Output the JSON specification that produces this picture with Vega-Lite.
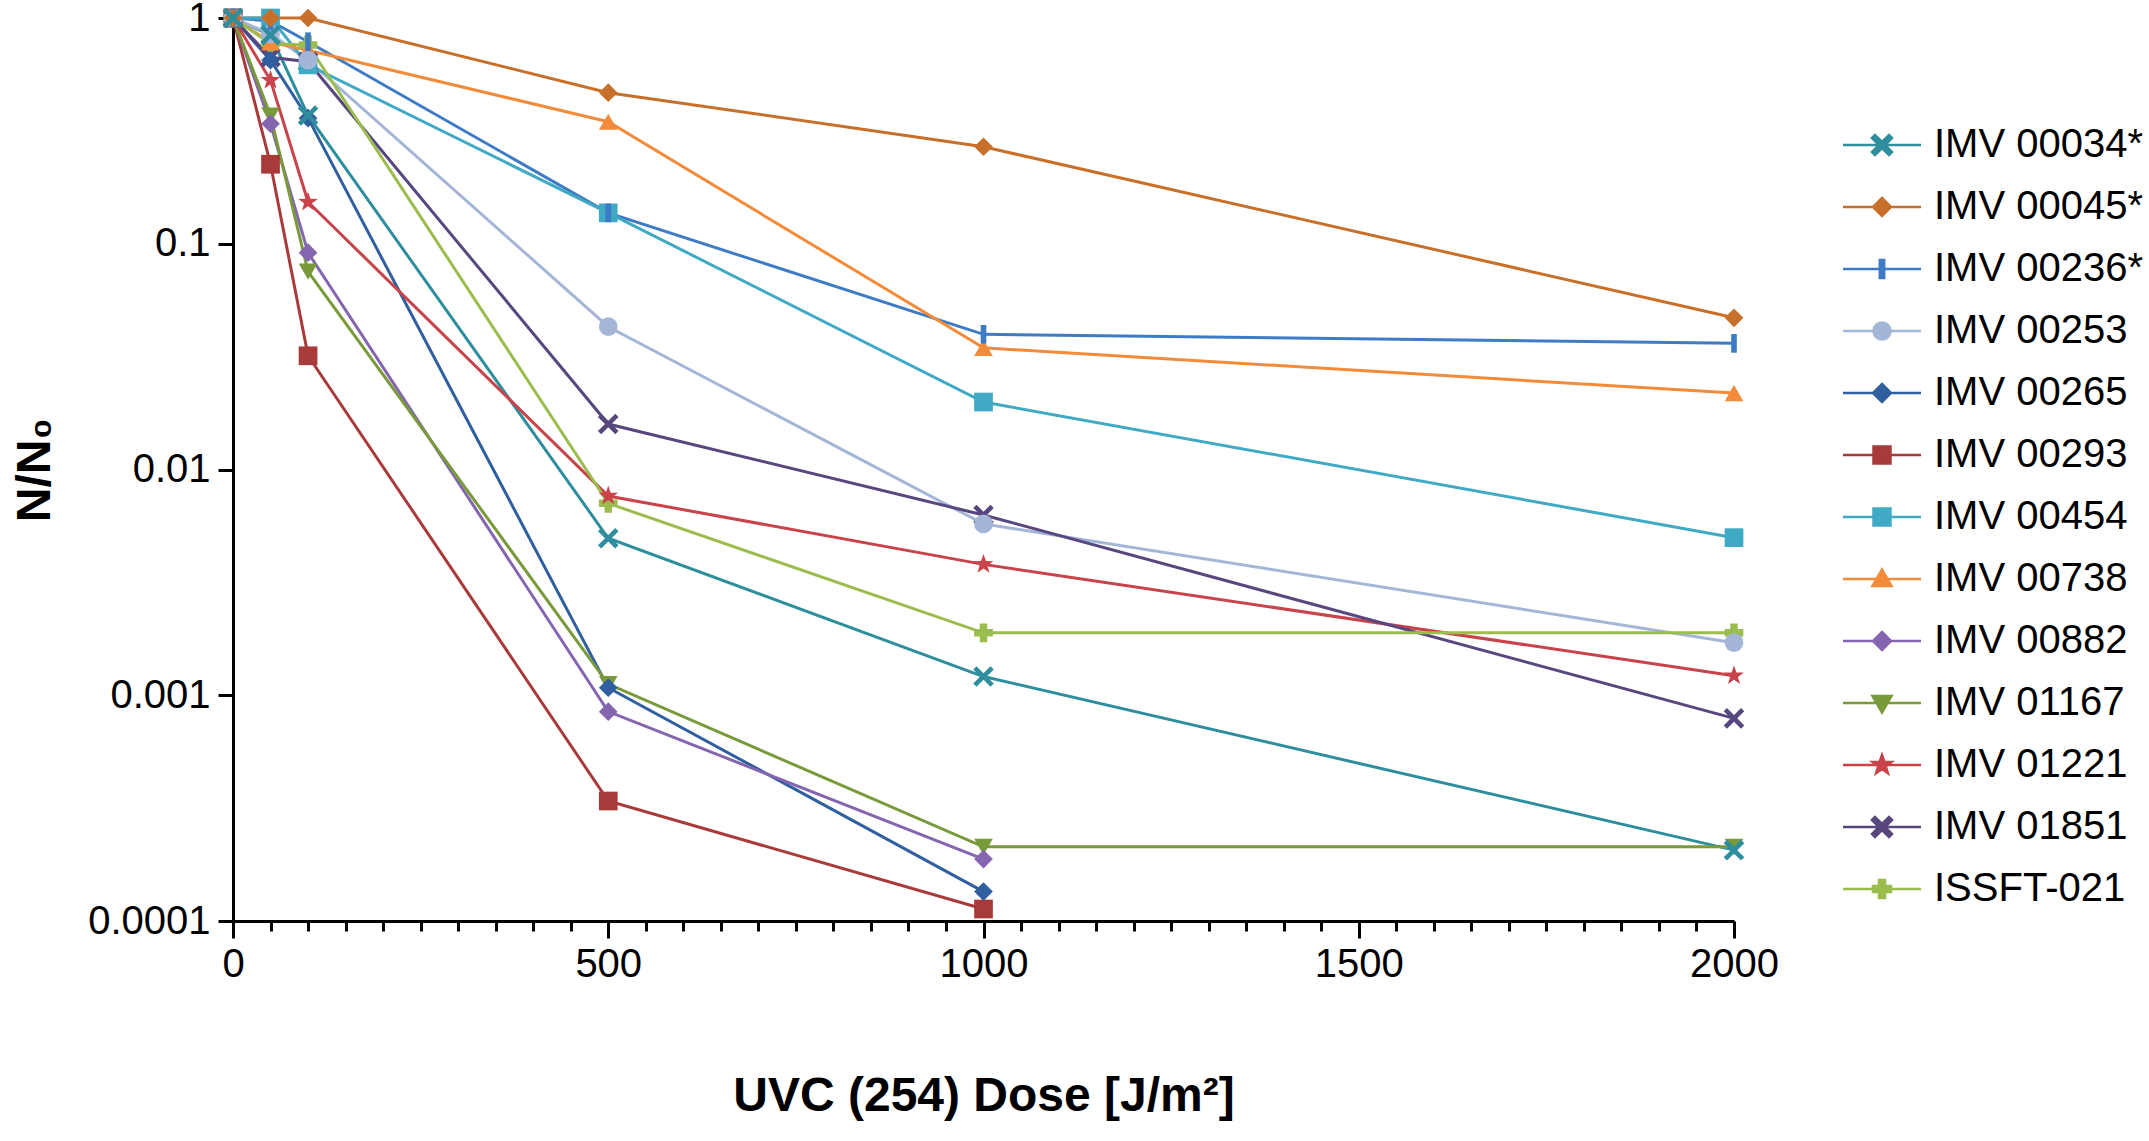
{
  "$schema": "https://vega.github.io/schema/vega-lite/v6.json",
  "width": 1501,
  "height": 903,
  "autosize": "none",
  "padding": {"left": 233, "top": 18, "right": 415, "bottom": 220},
  "background": "white",
  "config": {
    "view": {"stroke": null},
    "font": "Liberation Sans",
    "axis": {
      "grid": false,
      "domainColor": "black",
      "domainWidth": 3,
      "tickColor": "black",
      "tickWidth": 3,
      "labelFont": "Liberation Sans",
      "labelFontSize": 40,
      "labelColor": "black",
      "titleFont": "Liberation Sans",
      "titleFontSize": 48,
      "titleFontWeight": "bold",
      "titleColor": "black"
    }
  },
  "data": {
    "values": [
      {"strain": "IMV 00034*", "dose": 0, "ratio": 1},
      {"strain": "IMV 00034*", "dose": 50, "ratio": 0.84},
      {"strain": "IMV 00034*", "dose": 100, "ratio": 0.37},
      {"strain": "IMV 00034*", "dose": 500, "ratio": 0.00496},
      {"strain": "IMV 00034*", "dose": 1000, "ratio": 0.00121},
      {"strain": "IMV 00034*", "dose": 2000, "ratio": 0.000206},
      {"strain": "IMV 00045*", "dose": 0, "ratio": 1},
      {"strain": "IMV 00045*", "dose": 50, "ratio": 1},
      {"strain": "IMV 00045*", "dose": 100, "ratio": 1},
      {"strain": "IMV 00045*", "dose": 500, "ratio": 0.467},
      {"strain": "IMV 00045*", "dose": 1000, "ratio": 0.269},
      {"strain": "IMV 00045*", "dose": 2000, "ratio": 0.047},
      {"strain": "IMV 00236*", "dose": 0, "ratio": 1},
      {"strain": "IMV 00236*", "dose": 50, "ratio": 0.97},
      {"strain": "IMV 00236*", "dose": 100, "ratio": 0.785},
      {"strain": "IMV 00236*", "dose": 500, "ratio": 0.137},
      {"strain": "IMV 00236*", "dose": 1000, "ratio": 0.0397},
      {"strain": "IMV 00236*", "dose": 2000, "ratio": 0.0362},
      {"strain": "IMV 00253", "dose": 0, "ratio": 1},
      {"strain": "IMV 00253", "dose": 50, "ratio": 0.85},
      {"strain": "IMV 00253", "dose": 100, "ratio": 0.65},
      {"strain": "IMV 00253", "dose": 500, "ratio": 0.0429},
      {"strain": "IMV 00253", "dose": 1000, "ratio": 0.00574},
      {"strain": "IMV 00253", "dose": 2000, "ratio": 0.00171},
      {"strain": "IMV 00265", "dose": 0, "ratio": 1},
      {"strain": "IMV 00265", "dose": 50, "ratio": 0.65},
      {"strain": "IMV 00265", "dose": 100, "ratio": 0.36},
      {"strain": "IMV 00265", "dose": 500, "ratio": 0.00108},
      {"strain": "IMV 00265", "dose": 1000, "ratio": 0.000135},
      {"strain": "IMV 00293", "dose": 0, "ratio": 1},
      {"strain": "IMV 00293", "dose": 50, "ratio": 0.225},
      {"strain": "IMV 00293", "dose": 100, "ratio": 0.0319},
      {"strain": "IMV 00293", "dose": 500, "ratio": 0.00034},
      {"strain": "IMV 00293", "dose": 1000, "ratio": 0.000113},
      {"strain": "IMV 00454", "dose": 0, "ratio": 1},
      {"strain": "IMV 00454", "dose": 50, "ratio": 1},
      {"strain": "IMV 00454", "dose": 100, "ratio": 0.62},
      {"strain": "IMV 00454", "dose": 500, "ratio": 0.137},
      {"strain": "IMV 00454", "dose": 1000, "ratio": 0.0199},
      {"strain": "IMV 00454", "dose": 2000, "ratio": 0.00499},
      {"strain": "IMV 00738", "dose": 0, "ratio": 1},
      {"strain": "IMV 00738", "dose": 50, "ratio": 0.78},
      {"strain": "IMV 00738", "dose": 100, "ratio": 0.72},
      {"strain": "IMV 00738", "dose": 500, "ratio": 0.347},
      {"strain": "IMV 00738", "dose": 1000, "ratio": 0.0346},
      {"strain": "IMV 00738", "dose": 2000, "ratio": 0.0218},
      {"strain": "IMV 00882", "dose": 0, "ratio": 1},
      {"strain": "IMV 00882", "dose": 50, "ratio": 0.34},
      {"strain": "IMV 00882", "dose": 100, "ratio": 0.0913},
      {"strain": "IMV 00882", "dose": 500, "ratio": 0.000846},
      {"strain": "IMV 00882", "dose": 1000, "ratio": 0.000188},
      {"strain": "IMV 01167", "dose": 0, "ratio": 1},
      {"strain": "IMV 01167", "dose": 50, "ratio": 0.37},
      {"strain": "IMV 01167", "dose": 100, "ratio": 0.0752},
      {"strain": "IMV 01167", "dose": 500, "ratio": 0.00112},
      {"strain": "IMV 01167", "dose": 1000, "ratio": 0.000213},
      {"strain": "IMV 01167", "dose": 2000, "ratio": 0.000213},
      {"strain": "IMV 01221", "dose": 0, "ratio": 1},
      {"strain": "IMV 01221", "dose": 50, "ratio": 0.53},
      {"strain": "IMV 01221", "dose": 100, "ratio": 0.153},
      {"strain": "IMV 01221", "dose": 500, "ratio": 0.00763},
      {"strain": "IMV 01221", "dose": 1000, "ratio": 0.0038},
      {"strain": "IMV 01221", "dose": 2000, "ratio": 0.00122},
      {"strain": "IMV 01851", "dose": 0, "ratio": 1},
      {"strain": "IMV 01851", "dose": 50, "ratio": 0.67},
      {"strain": "IMV 01851", "dose": 100, "ratio": 0.64},
      {"strain": "IMV 01851", "dose": 500, "ratio": 0.0159},
      {"strain": "IMV 01851", "dose": 1000, "ratio": 0.00629},
      {"strain": "IMV 01851", "dose": 2000, "ratio": 0.00079},
      {"strain": "ISSFT-021", "dose": 0, "ratio": 1},
      {"strain": "ISSFT-021", "dose": 50, "ratio": 0.77},
      {"strain": "ISSFT-021", "dose": 100, "ratio": 0.76},
      {"strain": "ISSFT-021", "dose": 500, "ratio": 0.00708},
      {"strain": "ISSFT-021", "dose": 1000, "ratio": 0.00189},
      {"strain": "ISSFT-021", "dose": 2000, "ratio": 0.00189}
    ]
  },
  "encoding": {
    "x": {
      "field": "dose",
      "type": "quantitative",
      "scale": {"domain": [0, 2000], "nice": false},
      "axis": {
        "title": "UVC (254) Dose [J/m²]",
        "values": [0, 50, 100, 150, 200, 250, 300, 350, 400, 450, 500, 550, 600, 650, 700, 750, 800, 850, 900, 950, 1000, 1050, 1100, 1150, 1200, 1250, 1300, 1350, 1400, 1450, 1500, 1550, 1600, 1650, 1700, 1750, 1800, 1850, 1900, 1950, 2000],
        "format": "d",
        "labelExpr": "datum.value % 500 === 0 ? datum.label : ''",
        "labelOverlap": false,
        "labelFlush": false,
        "tickSize": {"condition": {"test": "datum.value % 500 === 0", "value": 17}, "value": 10},
        "labelPadding": 6,
        "titleX": 750.5,
        "titleY": 175,
        "titleBaseline": "middle"
      }
    },
    "y": {
      "field": "ratio",
      "type": "quantitative",
      "scale": {"type": "log", "domain": [0.0001, 1], "nice": false},
      "axis": {
        "title": "N/N₀",
        "values": [0.0001, 0.001, 0.01, 0.1, 1],
        "format": "~g",
        "tickSize": 15,
        "labelPadding": 8,
        "titleX": -198,
        "titleY": 451.5,
        "titleAngle": -90,
        "titleAlign": "center",
        "titleBaseline": "middle"
      }
    }
  },
  "layer": [
    {
      "mark": {"type": "line", "strokeWidth": 3},
      "encoding": {
        "color": {
          "field": "strain",
          "type": "nominal",
          "scale": {
            "domain": ["IMV 00034*", "IMV 00045*", "IMV 00236*", "IMV 00253", "IMV 00265", "IMV 00293", "IMV 00454", "IMV 00738", "IMV 00882", "IMV 01167", "IMV 01221", "IMV 01851", "ISSFT-021"],
            "range": ["#2f8e9e", "#c8702a", "#3d7cc4", "#a4b6d8", "#2f5f9e", "#a83a3a", "#40a9c4", "#f28b3a", "#8565b0", "#789a3a", "#c8434a", "#58477f", "#9bbd4e"]
          },
          "legend": null
        }
      }
    },
    {
      "mark": {"type": "point", "filled": true, "opacity": 1, "size": 350, "strokeWidth": 0},
      "encoding": {
        "color": {
          "field": "strain",
          "type": "nominal",
          "scale": {
            "domain": ["IMV 00034*", "IMV 00045*", "IMV 00236*", "IMV 00253", "IMV 00265", "IMV 00293", "IMV 00454", "IMV 00738", "IMV 00882", "IMV 01167", "IMV 01221", "IMV 01851", "ISSFT-021"],
            "range": ["#2f8e9e", "#c8702a", "#3d7cc4", "#a4b6d8", "#2f5f9e", "#a83a3a", "#40a9c4", "#f28b3a", "#8565b0", "#789a3a", "#c8434a", "#58477f", "#9bbd4e"]
          },
          "legend": null
        },
        "shape": {
          "field": "strain",
          "type": "nominal",
          "scale": {
            "domain": ["IMV 00034*", "IMV 00045*", "IMV 00236*", "IMV 00253", "IMV 00265", "IMV 00293", "IMV 00454", "IMV 00738", "IMV 00882", "IMV 01167", "IMV 01221", "IMV 01851", "ISSFT-021"],
            "range": [
              "M-1.1,-0.75L-0.75,-1.1L0,-0.35L0.75,-1.1L1.1,-0.75L0.35,0L1.1,0.75L0.75,1.1L0,0.35L-0.75,1.1L-1.1,0.75L-0.35,0Z",
              "diamond",
              "M-0.3,-1L0.3,-1L0.3,1L-0.3,1Z",
              "circle",
              "diamond",
              "square",
              "square",
              "triangle-up",
              "diamond",
              "triangle-down",
              "M0,-1.1L0.26,-0.36L1.05,-0.34L0.42,0.14L0.65,0.89L0,0.44L-0.65,0.89L-0.42,0.14L-1.05,-0.34L-0.26,-0.36Z",
              "M-1.1,-0.75L-0.75,-1.1L0,-0.35L0.75,-1.1L1.1,-0.75L0.35,0L1.1,0.75L0.75,1.1L0,0.35L-0.75,1.1L-1.1,0.75L-0.35,0Z",
              "cross"
            ]
          },
          "legend": null
        },
        "order": {"field": "strain", "sort": "descending"}
      }
    },
    {
      "mark": {"type": "point", "filled": true, "opacity": 1, "size": 0, "strokeWidth": 0},
      "encoding": {
        "fill": {
          "field": "strain",
          "type": "nominal",
          "scale": {
            "domain": ["IMV 00034*", "IMV 00045*", "IMV 00236*", "IMV 00253", "IMV 00265", "IMV 00293", "IMV 00454", "IMV 00738", "IMV 00882", "IMV 01167", "IMV 01221", "IMV 01851", "ISSFT-021"],
            "range": ["#2f8e9e", "#c8702a", "#3d7cc4", "#a4b6d8", "#2f5f9e", "#a83a3a", "#40a9c4", "#f28b3a", "#8565b0", "#789a3a", "#c8434a", "#58477f", "#9bbd4e"]
          },
          "legend": {
            "title": null,
            "labelExpr": "datum.label == 'IMV 00882' || datum.label == 'IMV 01851' ? '\u00a0' + datum.label : datum.label",
            "encode": {"symbols": {"strokeWidth": {"value": 2.5}}}
          }
        },
        "stroke": {
          "field": "strain",
          "type": "nominal",
          "scale": {
            "domain": ["IMV 00034*", "IMV 00045*", "IMV 00236*", "IMV 00253", "IMV 00265", "IMV 00293", "IMV 00454", "IMV 00738", "IMV 00882", "IMV 01167", "IMV 01221", "IMV 01851", "ISSFT-021"],
            "range": ["#2f8e9e", "#c8702a", "#3d7cc4", "#a4b6d8", "#2f5f9e", "#a83a3a", "#40a9c4", "#f28b3a", "#8565b0", "#789a3a", "#c8434a", "#58477f", "#9bbd4e"]
          },
          "legend": {
            "title": null,
            "labelExpr": "datum.label == 'IMV 00882' || datum.label == 'IMV 01851' ? '\u00a0' + datum.label : datum.label"
          }
        },
        "shape": {
          "field": "strain",
          "type": "nominal",
          "scale": {
            "domain": ["IMV 00034*", "IMV 00045*", "IMV 00236*", "IMV 00253", "IMV 00265", "IMV 00293", "IMV 00454", "IMV 00738", "IMV 00882", "IMV 01167", "IMV 01221", "IMV 01851", "ISSFT-021"],
            "range": [
              "M-3.9,0L3.9,0M-1,-0.7L-0.7,-1L0,-0.3L0.7,-1L1,-0.7L0.3,0L1,0.7L0.7,1L0,0.3L-0.7,1L-1,0.7L-0.3,0Z",
              "M-3.9,0L3.9,0M0,-0.9L0.9,0L0,0.9L-0.9,0Z",
              "M-3.9,0L3.9,0M-0.22,-0.9L0.22,-0.9L0.22,0.9L-0.22,0.9Z",
              "M-3.9,0L3.9,0M-0.85,0A0.85,0.85,0,1,0,0.85,0A0.85,0.85,0,1,0,-0.85,0Z",
              "M-3.9,0L3.9,0M0,-0.9L0.9,0L0,0.9L-0.9,0Z",
              "M-3.9,0L3.9,0M-0.85,-0.85L0.85,-0.85L0.85,0.85L-0.85,0.85Z",
              "M-3.9,0L3.9,0M-0.85,-0.85L0.85,-0.85L0.85,0.85L-0.85,0.85Z",
              "M-3.9,0L3.9,0M0,-0.95L0.95,0.7L-0.95,0.7Z",
              "M-3.9,0L3.9,0M0,-0.9L0.9,0L0,0.9L-0.9,0Z",
              "M-3.9,0L3.9,0M-0.95,-0.7L0.95,-0.7L0,0.95Z",
              "M-3.9,0L3.9,0M0,-1L0.235,-0.324L0.951,-0.309L0.38,0.124L0.588,0.809L0,0.4L-0.588,0.809L-0.38,0.124L-0.951,-0.309L-0.235,-0.324Z",
              "M-3.9,0L3.9,0M-1,-0.7L-0.7,-1L0,-0.3L0.7,-1L1,-0.7L0.3,0L1,0.7L0.7,1L0,0.3L-0.7,1L-1,0.7L-0.3,0Z",
              "M-3.9,0L3.9,0M-0.3,-0.9L0.3,-0.9L0.3,-0.3L0.9,-0.3L0.9,0.3L0.3,0.3L0.3,0.9L-0.3,0.9L-0.3,0.3L-0.9,0.3L-0.9,-0.3L-0.3,-0.3Z"
            ]
          },
          "legend": {
            "title": null,
            "orient": "none",
            "legendX": 1629,
            "legendY": 107,
            "padding": 0,
            "symbolSize": 400,
            "symbolStrokeWidth": 2.5,
            "symbolOpacity": 1,
            "labelFont": "Liberation Sans",
            "labelFontSize": 40,
            "labelColor": "black",
            "labelLimit": 400,
            "labelOffset": 32,
            "labelExpr": "datum.label == 'IMV 00882' || datum.label == 'IMV 01851' ? '\u00a0' + datum.label : datum.label",
            "rowPadding": 22
          }
        }
      }
    }
  ],
  "resolve": {
    "scale": {"shape": "independent"},
    "legend": {"fill": "independent", "stroke": "independent"}
  }
}
